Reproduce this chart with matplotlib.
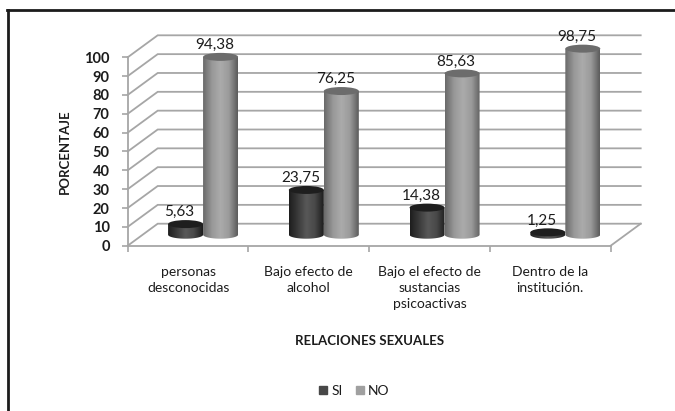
import numpy as np
import matplotlib
matplotlib.use("Agg")
import matplotlib.pyplot as plt
from matplotlib.colors import LinearSegmentedColormap
from matplotlib.lines import Line2D
from matplotlib.patches import Ellipse, PathPatch
from matplotlib.path import Path

plt.rcParams["font.family"] = ["Lato", "DejaVu Sans"]

# Values
categories = ["personas\ndesconocidas", "Bajo efecto de\nalcohol",
              "Bajo el efecto de\nsustancias\npsicoactivas", "Dentro de la\ninstitución."]
si_values = [5.63, 23.75, 14.38, 1.25]
no_values = [94.38, 76.25, 85.63, 98.75]
y_ticks = list(range(0, 101, 10))

W, H = 675, 411
GRID = "#a6a6a6"
TEXT = "#1c1c1c"

# fake 3D box: how far the back wall is shifted from the front plane
DEPTH_X = 30 / 120.75
DEPTH_Y = 22 / 1.884
BAR_W = 35 / 120.75
ELL_H = 8 / 1.884

si_cmap = LinearSegmentedColormap.from_list("si", ["#1e1e1e", "#3a3a3a", "#585858", "#484848", "#1c1c1c"])
no_cmap = LinearSegmentedColormap.from_list("no", ["#6a6a6a", "#989898", "#ababab", "#9a9a9a", "#5c5c5c"])


def cylinder(ax, xc, val, cmap, top_color, z):
    base = DEPTH_Y / 2
    top = base + val
    left, right = xc - BAR_W / 2, xc + BAR_W / 2
    # body outline: straight sides with a rounded bottom
    t = np.linspace(np.pi, 2 * np.pi, 40)
    bx = xc + BAR_W / 2 * np.cos(t)
    by = base + ELL_H / 2 * np.sin(t)
    verts = list(zip(bx, by)) + [(right, top), (left, top), (left, base)]
    codes = [Path.MOVETO] + [Path.LINETO] * (len(verts) - 2) + [Path.CLOSEPOLY]
    clip = PathPatch(Path(verts, codes), transform=ax.transData, fc="none", ec="none")
    ax.add_patch(clip)
    grad = np.linspace(0, 1, 64).reshape(1, -1)
    im = ax.imshow(grad, cmap=cmap, extent=(left, right, base - ELL_H, top), aspect="auto",
                   zorder=z, interpolation="bilinear", vmin=0, vmax=1)
    # the box clip would cut the tall bars at the top of the axes
    im.set_clip_box(ax.figure.bbox)
    im.set_clip_path(clip)
    ax.add_patch(Ellipse((xc, top), BAR_W, ELL_H, fc=top_color, ec="none", zorder=z + 0.1, clip_on=False))


fig = plt.figure(figsize=(W / 100, H / 100), dpi=100)
# axes box is the front plane of the chart
x0, x1 = 127.7, 610.7
y0, y1 = 245.7, 57.3
ax = fig.add_axes([x0 / W, 1 - y0 / H, (x1 - x0) / W, (y0 - y1) / H])
n = len(categories)

# back wall and left wall grid
for v in y_ticks:
    ax.plot([0, DEPTH_X, n + DEPTH_X], [v, v + DEPTH_Y, v + DEPTH_Y], color=GRID, lw=1.3,
            clip_on=False, zorder=1, solid_joinstyle="miter")
# floor
ax.plot([n, n + DEPTH_X], [0, DEPTH_Y], color=GRID, lw=1.3, clip_on=False, zorder=1)

for i in range(n):
    xc = i + 0.5 + DEPTH_X / 2
    cylinder(ax, xc - BAR_W / 2, si_values[i], si_cmap, "#1e1e1e", 3)
    cylinder(ax, xc + BAR_W / 2, no_values[i], no_cmap, "#6c6c6c", 4)
    ax.annotate(f"{si_values[i]:.2f}".replace(".", ","), (xc - BAR_W / 2, si_values[i] + DEPTH_Y / 2),
                xytext=(-4.3, 8.5), textcoords="offset points", ha="center", va="center",
                fontsize=11, color=TEXT, zorder=6, annotation_clip=False)
    ax.annotate(f"{no_values[i]:.2f}".replace(".", ","), (xc + BAR_W / 2, no_values[i] + DEPTH_Y / 2),
                xytext=(-4.3, 8.5), textcoords="offset points", ha="center", va="center",
                fontsize=11, color=TEXT, zorder=6, annotation_clip=False)

ax.set_xlim(0, n)
ax.set_ylim(0, 100)
ax.patch.set_alpha(0)
for s in ["top", "right"]:
    ax.spines[s].set_visible(False)
for s in ["left", "bottom"]:
    ax.spines[s].set_color(GRID)
    ax.spines[s].set_linewidth(1.3)
ax.set_yticks(y_ticks)
ax.set_yticklabels([str(v) for v in y_ticks], fontsize=10.5, fontweight="bold", color=TEXT)
ax.set_xticks(range(n + 1))
ax.set_xticklabels([])
ax.tick_params(axis="both", color=GRID, width=1.2, length=4, pad=9)

for i, c in enumerate(categories):
    ax.annotate(c, (i + 0.5, 0), xytext=(0, -14.5), textcoords="offset points", ha="center", va="top",
                fontsize=10, color=TEXT, linespacing=1.42, annotation_clip=False)

fig.text(65 / W, 1 - 152 / H, "PORCENTAJE", rotation=90, ha="center", va="center",
         fontsize=9.5, fontweight="bold", color=TEXT)
fig.text(370 / W, 1 - 341 / H, "RELACIONES SEXUALES", ha="center", va="center",
         fontsize=9.5, fontweight="bold", color=TEXT)

handles = [Line2D([], [], ls="none", marker="s", ms=5.5, color="#484848"),
           Line2D([], [], ls="none", marker="s", ms=5.5, color="#a0a0a0")]
fig.legend(handles, ["SI", "NO"], loc="center", bbox_to_anchor=(353 / W, 1 - 391 / H), ncol=2, frameon=False,
           fontsize=10, labelcolor=TEXT, handletextpad=0.1, columnspacing=0.7, handlelength=1)

# outer frame: only top and left are seen in the picture
fig.add_artist(Line2D([7.5 / W, 7.5 / W], [0, 1 - 10 / H], color="#1c1c1c", lw=2, transform=fig.transFigure))
fig.add_artist(Line2D([6.5 / W, 1], [1 - 10 / H, 1 - 10 / H], color="#1c1c1c", lw=2, transform=fig.transFigure))

fig.savefig("out.png", dpi=100)
